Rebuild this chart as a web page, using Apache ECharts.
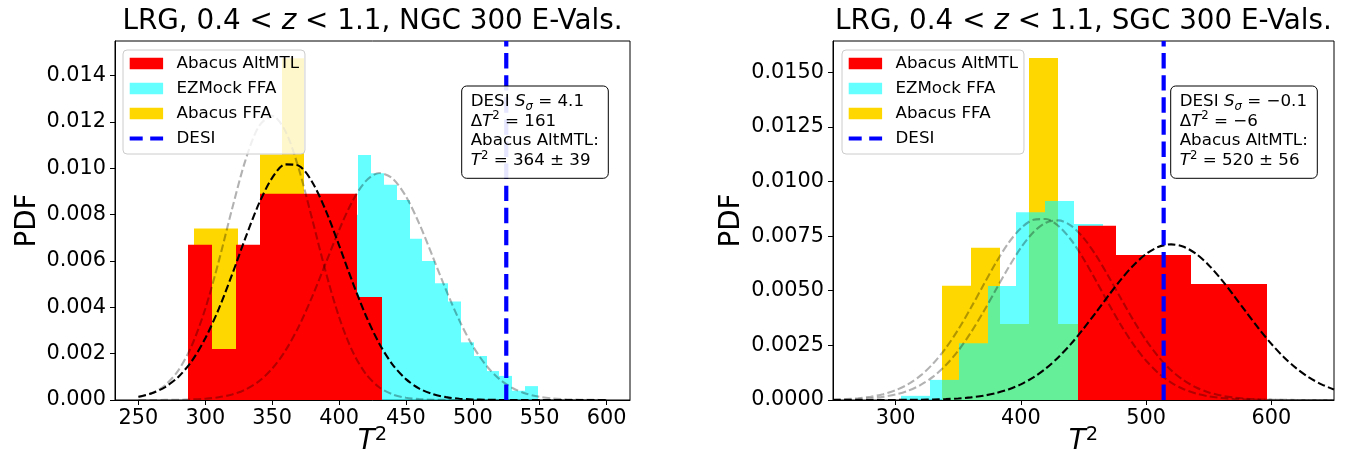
<!DOCTYPE html>
<html>
<head>
<meta charset="utf-8">
<script src="https://cdn.jsdelivr.net/npm/echarts@6/dist/echarts.min.js"></script>
<style>
  html, body { margin: 0; padding: 0; background: #fff; }
  #chart { width: 1346px; height: 454px; }
</style>
</head>
<body>
<div id="chart"></div>
<script>
const FONT = "DejaVu Sans";

// ---- NGC panel (left) ----
const ngcXTicks = [250, 300, 350, 400, 450, 500, 550, 600];
const ngcYTicks = [0, 0.002, 0.004, 0.006, 0.008, 0.010, 0.012, 0.014];

const ngcAltEdges = [286.7, 304.85, 323.0, 341.15, 359.3, 377.45, 395.6, 413.75, 431.9];
const ngcAltDensity = [0.0067, 0.0022, 0.0067, 0.0089, 0.0089, 0.0089, 0.0089, 0.00445];

const ngcEzEdges = [337.68, 347.27, 356.86, 366.45, 376.04, 385.63, 395.22, 404.81, 414.40, 423.99,
  433.58, 443.17, 452.76, 462.35, 471.94, 481.53, 491.12, 500.71, 510.30, 519.89, 529.48, 539.07, 548.66];
const ngcEzDensity = [0.0006, 0.0012, 0.0021, 0.0031, 0.0044, 0.0056, 0.0068, 0.0080,
  0.01058, 0.00979, 0.00929, 0.00864, 0.00696, 0.00600, 0.00504, 0.00425, 0.00249, 0.00190,
  0.00125, 0.00104, 0.00040, 0.00060];

const ngcFfaEdges = [291.8, 308.15, 324.5, 340.85, 357.2, 373.55, 389.9, 406.25, 422.6];
const ngcFfaDensity = [0.0074, 0.0074, 0.0049, 0.0106, 0.01476, 0.0074, 0.0049, 0.0025];

const ngcCurveX = [250, 260, 270, 280, 290, 300, 310, 320, 330, 340, 350, 360, 370, 380, 390, 400, 410, 420,
  430, 440, 450, 460, 470, 480, 490, 500, 510, 520, 530, 540, 550, 560, 570, 580, 590, 600];
const ngcFitAlt = [0.000143, 0.000292, 0.000560, 0.001005, 0.001691, 0.002662, 0.003922, 0.005413, 0.006996,
  0.008465, 0.009591, 0.010175, 0.010109, 0.009403, 0.008190, 0.006681, 0.005102, 0.003649, 0.002443,
  0.001532, 0.000900, 0.000494, 0.000255, 0.000123, 0.000055, 0.000023, 0.000009, 0.000003, 0.000001,
  0, 0, 0, 0, 0, 0, 0];
const ngcFitEz = [0.0000005, 0.0000014, 0.0000039, 0.0000101, 0.0000243, 0.0000552, 0.000118, 0.000238,
  0.000451, 0.000805, 0.001353, 0.002141, 0.003188, 0.004471, 0.005902, 0.007334, 0.008581, 0.009450,
  0.009799, 0.009565, 0.008790, 0.007605, 0.006194, 0.004749, 0.003428, 0.002329, 0.001490, 0.000897,
  0.000509, 0.000272, 0.000136, 0.0000645, 0.0000287, 0.0000121, 0.0000048, 0.0000018];
const ngcFitFfa = [0.000119, 0.000289, 0.000640, 0.001289, 0.002363, 0.003939, 0.005975, 0.008244, 0.010347,
  0.011813, 0.012269, 0.011592, 0.009962, 0.007789, 0.005539, 0.003583, 0.002109, 0.001129, 0.000550,
  0.000244, 0.000098, 0.000036, 0.000012, 0.000004, 0.000001, 0, 0, 0, 0, 0, 0, 0, 0, 0, 0, 0];

// ---- SGC panel (right) ----
const sgcXTicks = [300, 400, 500, 600];
const sgcYTicks = [0, 0.0025, 0.005, 0.0075, 0.01, 0.0125, 0.015];

const sgcAltEdges = [445.9, 476.0, 506.1, 536.2, 566.3, 596.4];
const sgcAltDensity = [0.00797, 0.00664, 0.00664, 0.00531, 0.00531];

const sgcEzEdges = [304.6, 327.55, 350.5, 373.45, 396.4, 419.35, 442.3, 465.25, 488.2, 511.15, 534.1, 557.05];
const sgcEzDensity = [0.00019, 0.00092, 0.0026, 0.00522, 0.00859, 0.00911, 0.00806, 0.0047, 0.0026, 0.0011, 0.0004];

const sgcFfaEdges = [337.0, 360.2, 383.4, 406.6, 429.8, 453.0, 476.2, 499.4, 522.6];
const sgcFfaDensity = [0.00523, 0.00697, 0.00348, 0.01565, 0.00348, 0.0035, 0.0017, 0.0017];

const sgcCurveX = [250, 260, 270, 280, 290, 300, 310, 320, 330, 340, 350, 360, 370, 380, 390, 400, 410, 420,
  430, 440, 450, 460, 470, 480, 490, 500, 510, 520, 530, 540, 550, 560, 570, 580, 590, 600, 610, 620, 630, 640, 650];
const sgcFitAlt = [0.0000001, 0.0000001, 0.0000003, 0.0000007, 0.0000015, 0.0000032, 0.0000063, 0.0000121,
  0.0000225, 0.0000407, 0.000071, 0.000120, 0.000197, 0.000313, 0.000481, 0.000717, 0.001035, 0.001446,
  0.001958, 0.002568, 0.003262, 0.004013, 0.004782, 0.005520, 0.006172, 0.006684, 0.007011, 0.007124,
  0.007011, 0.006684, 0.006172, 0.005520, 0.004782, 0.004013, 0.003262, 0.002568, 0.001958, 0.001446,
  0.001035, 0.000717, 0.000481];
const sgcFitEz = [0.0000098, 0.0000204, 0.0000408, 0.0000782, 0.000144, 0.000253, 0.000426, 0.000689,
  0.001068, 0.001586, 0.002257, 0.003078, 0.004024, 0.005041, 0.006052, 0.006963, 0.007679, 0.008115,
  0.008219, 0.007978, 0.007422, 0.006617, 0.005654, 0.004630, 0.003634, 0.002733, 0.001970, 0.001361,
  0.000901, 0.000572, 0.000348, 0.000203, 0.000113, 0.0000606, 0.0000311, 0.0000153, 0.0000072,
  0.0000032, 0.0000014, 0.0000006, 0.0000002];
const sgcFitFfa = [0.0000210, 0.0000423, 0.0000815, 0.000150, 0.000265, 0.000448, 0.000725, 0.001125,
  0.001670, 0.002373, 0.003229, 0.004208, 0.005251, 0.006274, 0.007177, 0.007862, 0.008246, 0.008282,
  0.007965, 0.007334, 0.006467, 0.005460, 0.004414, 0.003417, 0.002532, 0.001797, 0.001221, 0.000795,
  0.000495, 0.000296, 0.000169, 0.0000923, 0.0000484, 0.0000243, 0.0000116, 0.0000054, 0.0000024,
  0.0000010, 0.0000004, 0.0000002, 0.0000001];

const desiT2 = [525, 514];
const fields = ["NGC", "SGC"];
const annotations = [
  ["{n|DESI }{i|S}{sub|σ}{n| = 4.1}", "{n|Δ}{i|T}{sup|2}{n| = 161}", "{n|Abacus AltMTL:}", "{i|T}{sup|2}{n| = 364 ± 39}"],
  ["{n|DESI }{i|S}{sub|σ}{n| = −0.1}", "{n|Δ}{i|T}{sup|2}{n| = −6}", "{n|Abacus AltMTL:}", "{i|T}{sup|2}{n| = 520 ± 56}"]
];

const RED = "#ff0000", CYAN = "rgba(0,255,255,0.6)", GOLD = "#ffd700", BLUE = "#0000ff";
const GRAY = "rgba(0,0,0,0.3)";

const yMax = [0.0155, 0.01643];
const xMin = [232.5, 250];
const xMax = [617.5, 650];
const grids = [
  { left: 115, top: 41, width: 515, height: 359 },
  { left: 833, top: 41, width: 501, height: 359 }
];

function renderBin(params, api) {
  const a = api.coord([api.value(0), api.value(2)]);
  const b = api.coord([api.value(1), 0]);
  const x0 = Math.round(a[0]);
  const x1 = Math.round(b[0]);
  return {
    type: "rect",
    shape: { x: x0, y: a[1], width: x1 - x0, height: b[1] - a[1] },
    style: { fill: api.visual("color") }
  };
}

function histSeries(name, idx, edges, dens, color) {
  return {
    type: "custom", name: name, xAxisIndex: idx, yAxisIndex: idx,
    renderItem: renderBin, itemStyle: { color: color },
    encode: { x: [0, 1], y: 2 }, silent: true,
    data: dens.map((d, i) => [edges[i], edges[i + 1], d])
  };
}

function curveSeries(name, idx, xs, ys, color) {
  return {
    type: "line", name: name, xAxisIndex: idx, yAxisIndex: idx,
    data: xs.map((x, i) => [x, ys[i]]), symbol: "none", smooth: 0.3, silent: true,
    lineStyle: { color: color, width: 2.1, type: [7.7, 3.3] }
  };
}

function desiSeries(idx) {
  return {
    type: "line", name: "DESI", xAxisIndex: idx, yAxisIndex: idx,
    data: [[desiT2[idx], 0], [desiT2[idx], yMax[idx]]], symbol: "none", silent: true,
    itemStyle: { color: BLUE },
    lineStyle: { color: BLUE, width: 4.2, type: [15.4, 6.7] }
  };
}

const series = [
  histSeries("Abacus FFA", 0, ngcFfaEdges, ngcFfaDensity, GOLD),
  histSeries("EZMock FFA", 0, ngcEzEdges, ngcEzDensity, CYAN),
  histSeries("Abacus AltMTL", 0, ngcAltEdges, ngcAltDensity, RED),
  curveSeries("fit EZMock NGC", 0, ngcCurveX, ngcFitEz, GRAY),
  curveSeries("fit FFA NGC", 0, ngcCurveX, ngcFitFfa, GRAY),
  curveSeries("fit AltMTL NGC", 0, ngcCurveX, ngcFitAlt, "#000"),
  desiSeries(0),
  histSeries("Abacus FFA", 1, sgcFfaEdges, sgcFfaDensity, GOLD),
  histSeries("EZMock FFA", 1, sgcEzEdges, sgcEzDensity, CYAN),
  histSeries("Abacus AltMTL", 1, sgcAltEdges, sgcAltDensity, RED),
  curveSeries("fit EZMock SGC", 1, sgcCurveX, sgcFitEz, GRAY),
  curveSeries("fit FFA SGC", 1, sgcCurveX, sgcFitFfa, GRAY),
  curveSeries("fit AltMTL SGC", 1, sgcCurveX, sgcFitAlt, "#000"),
  desiSeries(1)
];

const axisCommon = {
  axisLine: { show: true, lineStyle: { color: "#000", width: 1 } },
  splitLine: { show: false }
};

const xAxis = [ngcXTicks, sgcXTicks].map((ticks, i) => Object.assign({}, axisCommon, {
  type: "value", gridIndex: i, min: xMin[i], max: xMax[i],
  axisTick: { show: true, inside: false, length: 5, lineStyle: { color: "#000", width: 1 }, customValues: ticks },
  axisLabel: { customValues: ticks, fontSize: 20.8, fontFamily: FONT, color: "#000", margin: 8 }
}));

const yAxis = [ngcYTicks, sgcYTicks].map((ticks, i) => Object.assign({}, axisCommon, {
  type: "value", gridIndex: i, min: 0, max: yMax[i],
  axisTick: { show: true, inside: false, length: 5, lineStyle: { color: "#000", width: 1 }, customValues: ticks },
  axisLabel: {
    customValues: ticks, fontSize: 20.8, fontFamily: FONT, color: "#000", margin: 9,
    formatter: (v) => v.toFixed(i === 0 ? 3 : 4)
  }
}));

const desiIcon = "path://M0,0H13V4.2H0ZM20.5,0H33.4V4.2H20.5Z";
const legend = [123, 842].map((left) => ({
  orient: "vertical", left: left, top: 50,
  itemWidth: 33.4, itemHeight: 11.7, itemGap: 8,
  padding: [5, 6, 7, 6.7],
  backgroundColor: "rgba(255,255,255,0.8)", borderColor: "#cccccc", borderWidth: 1, borderRadius: 4,
  icon: "rect", selectedMode: false,
  textStyle: { fontSize: 16.7, fontFamily: FONT, color: "#000", padding: [0, 0, 0, 8.4] },
  data: [
    { name: "Abacus AltMTL", itemStyle: { color: RED, borderWidth: 0 } },
    { name: "EZMock FFA", itemStyle: { color: CYAN, borderWidth: 0 } },
    { name: "Abacus FFA", itemStyle: { color: GOLD, borderWidth: 0 } },
    { name: "DESI", icon: desiIcon, symbolKeepAspect: true, itemStyle: { color: BLUE, borderWidth: 0 } }
  ]
}));

const annoRich = {
  n: { fontSize: 16.7, fontFamily: FONT, lineHeight: 22, fill: "#000" },
  i: { fontSize: 16.7, fontFamily: FONT, fontStyle: "italic", lineHeight: 22, fill: "#000" },
  sub: { fontSize: 11.7, fontFamily: FONT, fontStyle: "italic", lineHeight: 14, verticalAlign: "bottom", fill: "#000" },
  sup: { fontSize: 11.7, fontFamily: FONT, lineHeight: 13, verticalAlign: "top", fill: "#000" }
};

const graphic = [];
[0, 1].forEach((i) => {
  const g = grids[i];
  const cx = g.left + g.width / 2;
  graphic.push({
    type: "text", x: cx, y: 22, z: 20, silent: true,
    style: {
      text: "{a|LRG, 0.4 < }{i|z}{a| < 1.1, " + fields[i] + " 300 E-Vals.}",
      align: "center", verticalAlign: "middle",
      rich: {
        a: { fontSize: 27.8, fontFamily: FONT, fill: "#000" },
        i: { fontSize: 27.8, fontFamily: FONT, fontStyle: "italic", fill: "#000" }
      }
    }
  });
  graphic.push({
    type: "text", x: cx, y: 442, z: 20, silent: true,
    style: {
      text: "{t|T}{s|2}", align: "center", verticalAlign: "middle",
      rich: {
        t: { fontSize: 27.8, fontFamily: FONT, fontStyle: "italic", lineHeight: 34, fill: "#000" },
        s: { fontSize: 19.5, fontFamily: FONT, lineHeight: 20, verticalAlign: "top", fill: "#000" }
      }
    }
  });
  graphic.push({
    type: "text", x: [28, 732][i], y: g.top + g.height / 2, rotation: Math.PI / 2, z: 20, silent: true,
    style: { text: "PDF", fontSize: 27.8, fontFamily: FONT, fill: "#000", align: "center", verticalAlign: "middle" }
  });
  const bx = [461.7, 1170.7][i];
  graphic.push({
    type: "rect", x: bx, y: 86, z: 20, silent: true,
    shape: { x: 0, y: 0, width: 146.6, height: 92.3, r: 5 },
    style: { fill: "rgba(255,255,255,0.9)", stroke: "#000", lineWidth: 1 }
  });
  annotations[i].forEach((line, k) => {
    graphic.push({
      type: "text", x: bx + 9, y: 101.7 + k * 19.7, z: 21, silent: true,
      style: { text: line, align: "left", verticalAlign: "middle", rich: annoRich }
    });
  });
});

const chart = echarts.init(document.getElementById("chart"));
chart.setOption({
  animation: false,
  backgroundColor: "#fff",
  grid: grids.map((g) => Object.assign({ show: true, borderColor: "#000", borderWidth: 1, containLabel: false }, g)),
  xAxis: xAxis,
  yAxis: yAxis,
  legend: legend,
  series: series,
  graphic: graphic
});
</script>
</body>
</html>
